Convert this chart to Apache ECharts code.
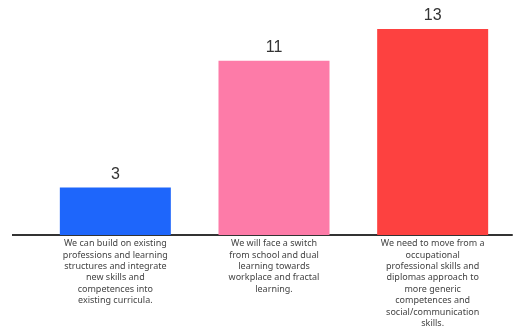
<!DOCTYPE html>
<html><head><meta charset="utf-8">
<script src="https://cdn.jsdelivr.net/npm/echarts@6/dist/echarts.min.js"></script>
<style>html,body{margin:0;padding:0;background:#fff}#c{width:523px;height:326px}</style>
</head><body><div id="c"></div>
<script>
const categories = [
  "We can build on existing\nprofessions and learning\nstructures and integrate\nnew skills and\ncompetences into\nexisting curricula.",
  "We will face a switch\nfrom school and dual\nlearning towards\nworkplace and fractal\nlearning.",
  "We need to move from a\noccupational\nprofessional skills and\ndiplomas approach to\nmore generic\ncompetences and\nsocial/communication\nskills."
];
const values = [3, 11, 13];
const colors = ["#1e66fb", "#fd7ba8", "#fd4140"];

const chart = echarts.init(document.getElementById('c'));
chart.setOption({
  animation: false,
  grid: {left: 36, right: 11, top: 29, bottom: 91, containLabel: false, outerBoundsMode: 'none'},
  xAxis: {
    type: 'category', data: categories,
    axisTick: {show: false},
    axisLine: {lineStyle: {color: '#333', width: 2}},
    axisLabel: {interval: 0, fontSize: 9, lineHeight: 11.4, color: '#444', margin: 3, fontFamily: 'Noto Sans', align: 'center'}
  },
  yAxis: {type: 'value', min: 0, max: 13, show: false, splitLine: {show: false}},
  series: [{
    type: 'bar', barWidth: 111,
    data: values.map((v, i) => ({value: v, itemStyle: {color: colors[i]}})),
    label: {show: true, position: 'top', fontSize: 16, color: '#333', distance: 5, fontFamily: 'Liberation Sans'}
  }],
  graphic: [{type: 'line', shape: {x1: 12, y1: 235, x2: 40, y2: 235}, style: {stroke: '#333', lineWidth: 2}}]
});
</script></body></html>
